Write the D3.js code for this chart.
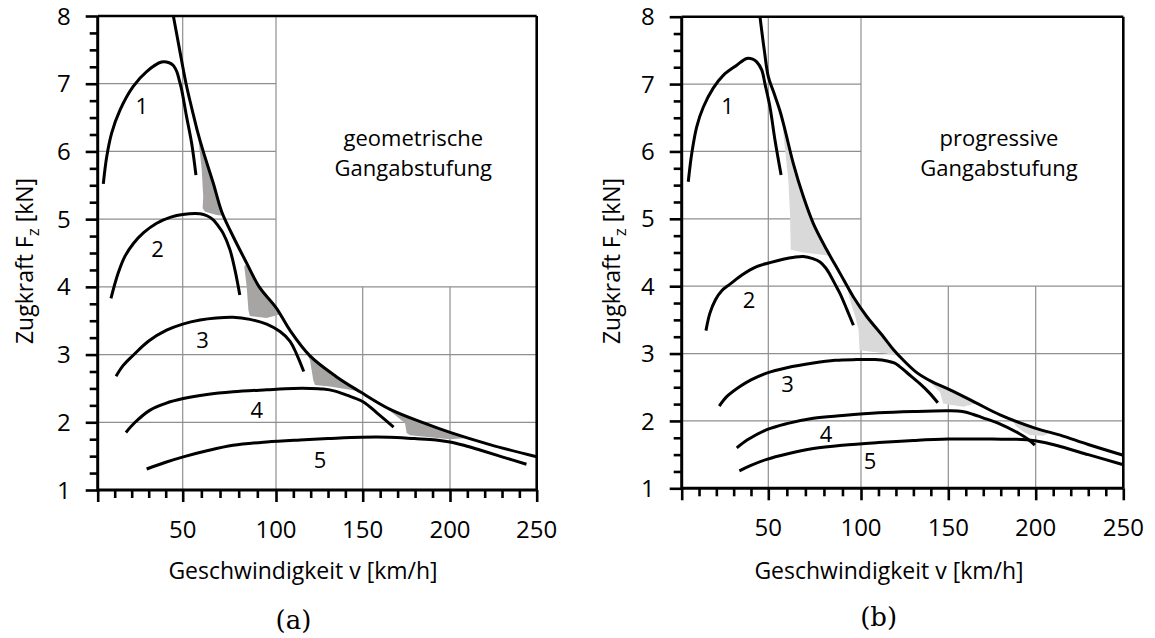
<!DOCTYPE html>
<html><head><meta charset="utf-8">
<script src="https://cdn.jsdelivr.net/npm/d3@7"></script>
<style>body{margin:0;background:#fff}</style>
</head><body>
<svg id="c" width="1155" height="638"></svg>
<script>
// ---------- data (x: km/h, y: kN) ----------
const xTicks = [0, 50, 100, 150, 200, 250];
const xTickLabels = ["", "50", "100", "150", "200", "250"];
const yTicks = [1, 2, 3, 4, 5, 6, 7, 8];
const yTickLabels = ["1", "2", "3", "4", "5", "6", "7", "8"];
const gridYFull = [2, 3, 4];
const gridYShort = [5, 6, 7];
const gridXFull = [50, 100];
const gridXShort = [150, 200];
const gearNames = ["1", "2", "3", "4", "5"];

// (a) geometrische Gangabstufung
const envA = [[44.5,8],[48.2,7.5],[51.8,7.0],[55.2,6.6],[57.7,6.32],[61,6.0],[66.4,5.53],[70.9,5.11],[77.1,4.74],[84.3,4.35],[91,4.0],[100.4,3.68],[108,3.36],[119.6,2.98],[135,2.67],[148.5,2.45],[165.7,2.19],[184.9,1.99],[200,1.85],[223,1.67],[250,1.49]];
const gear1A = [[3.3,5.52],[5.3,5.92],[8.2,6.27],[13.1,6.61],[20.9,6.96],[28.8,7.18],[37.6,7.32],[42,7.31],[44.5,7.27],[46.5,7.18],[48,7.05],[49.4,6.91],[52.1,6.51],[54.8,6.12],[57.1,5.65]];
const gear2A = [[7.8,3.83],[12,4.2],[16,4.45],[21,4.64],[27,4.8],[34.7,4.94],[43,5.03],[50,5.07],[59.3,5.08],[63,5.05],[66.4,4.99],[69,4.9],[71.7,4.79],[75.3,4.55],[78,4.25],[80.6,3.88]];
const gear3A = [[10.8,2.68],[15,2.84],[20.9,2.99],[30,3.2],[40.5,3.36],[50,3.45],[59.3,3.51],[68,3.54],[77,3.55],[86,3.52],[95,3.45],[102.3,3.34],[108,3.2],[112,3.0],[116,2.75]];
const gear4A = [[16.6,1.85],[22,2.0],[30.8,2.18],[40,2.28],[50.3,2.35],[63,2.41],[77,2.45],[95,2.48],[110,2.5],[120,2.5],[127.3,2.49],[134,2.46],[140.8,2.4],[150.4,2.3],[158.1,2.14],[167.7,1.93]];
const gear5A = [[28.8,1.31],[40,1.41],[50.3,1.49],[63,1.58],[77,1.66],[95,1.71],[113.8,1.74],[130,1.76],[149.4,1.78],[165,1.78],[179.5,1.76],[192,1.74],[200,1.71],[208,1.66],[217.3,1.59],[230,1.49],[244.1,1.38]];
const shadeA1 = [[58.4,6.2],[60.2,5.73],[61,5.33],[60.7,5.16],[62,5.11],[68.2,5.06],[72,5.05],[70.9,5.11],[66.4,5.53],[61,6.0]];
const shadeA2 = [[83,4.3],[84.3,4.0],[85.2,3.66],[86,3.57],[95,3.54],[103,3.6],[100.4,3.68],[91,4.0],[84.3,4.35]];
const shadeA3 = [[116.7,3.07],[119.6,2.92],[121.5,2.62],[122.5,2.55],[131.1,2.53],[142.7,2.48],[148.5,2.45],[135,2.67],[125,2.86]];
const shadeA4 = [[163.5,2.21],[174.2,1.99],[175.2,1.84],[177.1,1.81],[188.6,1.78],[200,1.75],[211.5,1.77],[200,1.85],[184.9,1.99],[172,2.12]];
const labelPosA = [[25.9,6.67],[35.2,4.56],[60.6,3.22],[89.7,2.18],[125.4,1.44]];

// (b) progressive Gangabstufung
const envB = [[45.2,8],[47.7,7.5],[50,7.11],[53,6.87],[56.3,6.6],[59,6.32],[63.5,5.82],[68.9,5.33],[74.3,4.93],[81.5,4.54],[88.7,4.19],[95.9,3.84],[103.3,3.55],[112.8,3.25],[118.5,3.06],[124.3,2.9],[131.8,2.72],[140,2.59],[151,2.46],[165,2.28],[179.6,2.09],[200,1.89],[214,1.79],[230,1.65],[250,1.49]];
const gear1B = [[3.8,5.55],[5.8,5.97],[8.7,6.37],[12.5,6.66],[18.2,6.94],[24,7.13],[31.8,7.28],[37.5,7.38],[41,7.37],[43.3,7.33],[46.2,7.21],[48.1,7.0],[50.9,6.66],[53.6,6.17],[56.9,5.65]];
const gear2B = [[14,3.34],[16.3,3.6],[19.5,3.8],[23,3.93],[27.9,4.03],[35,4.17],[43.3,4.29],[50.9,4.35],[58,4.4],[64,4.43],[68.9,4.44],[74,4.41],[77.9,4.36],[81,4.27],[83.5,4.16],[86,4.03],[88.7,3.89],[92.3,3.66],[95.9,3.42]];
const gear3B = [[21.7,2.22],[26,2.36],[33.6,2.51],[40,2.61],[49,2.71],[60,2.79],[74.3,2.86],[86,2.9],[97.5,2.91],[108,2.91],[115,2.89],[119,2.86],[122,2.81],[127,2.7],[133.4,2.56],[139,2.42],[144,2.27]];
const gear4B = [[31.8,1.6],[38,1.72],[49.1,1.87],[60,1.96],[74.3,2.04],[90,2.08],[110,2.12],[130,2.14],[150,2.15],[158,2.14],[164,2.1],[169.5,2.05],[179.1,1.96],[190,1.82],[196,1.72],[199.5,1.64]];
const gear5B = [[33.3,1.26],[40,1.34],[49.1,1.43],[60,1.51],[74.3,1.59],[90,1.64],[110,1.68],[130,1.71],[150,1.73],[175,1.73],[194.8,1.72],[205,1.68],[214,1.62],[230,1.5],[250,1.35]];
const shadeB1 = [[57.8,6.35],[60.8,5.58],[61.7,5.08],[62.1,4.54],[68.9,4.5],[77.9,4.47],[83,4.45],[81.5,4.54],[74.3,4.93],[68.9,5.33],[63.5,5.82],[59,6.32]];
const shadeB2 = [[92.3,4.0],[94.5,3.75],[96.9,3.55],[98.7,3.35],[99.2,3.05],[105,3.03],[114.6,3.0],[120.3,2.97],[112.8,3.25],[103.3,3.55],[95.9,3.84]];
const shadeB3 = [[137,2.64],[145.2,2.43],[147.1,2.26],[151.1,2.24],[158.7,2.21],[165,2.26],[151,2.46],[145,2.53]];
const shadeB4 = [[186,2.02],[188.8,1.92],[192.9,1.84],[196.7,1.79],[204.3,1.78],[209,1.83],[200,1.89],[193,1.96]];
const labelPosB = [[26.4,6.67],[38.9,3.79],[60.4,2.55],[81.2,1.81],[105.2,1.41]];

// ---------- drawing ----------
const svg = d3.select("#c");
const FONT = "'Open Sans', sans-serif";

function drawPanel(cfg) {
  const x = d3.scaleLinear().domain(xTicks).range(cfg.xr);
  const y = d3.scaleLinear().domain([1, 8]).range(cfg.yr);
  const g = svg.append("g");
  const line = d3.line().x(d => x(d[0])).y(d => y(d[1])).curve(d3.curveCatmullRom.alpha(0.5));
  const poly = d3.line().x(d => x(d[0])).y(d => y(d[1]));

  // grid
  const grid = g.append("g").attr("stroke", "#8f8f8f").attr("stroke-width", 1.2);
  grid.selectAll(".hf").data(gridYFull).join("line").attr("class","hf")
    .attr("x1", x(0)).attr("x2", x(250)).attr("y1", d => y(d)).attr("y2", d => y(d));
  grid.selectAll(".hs").data(gridYShort).join("line").attr("class","hs")
    .attr("x1", x(0)).attr("x2", x(100)).attr("y1", d => y(d)).attr("y2", d => y(d));
  grid.selectAll(".vf").data(gridXFull).join("line").attr("class","vf")
    .attr("x1", d => x(d)).attr("x2", d => x(d)).attr("y1", y(1)).attr("y2", y(8));
  grid.selectAll(".vs").data(gridXShort).join("line").attr("class","vs")
    .attr("x1", d => x(d)).attr("x2", d => x(d)).attr("y1", y(1)).attr("y2", y(4));

  // shading
  g.selectAll(".sh").data(cfg.shades).join("path").attr("class","sh")
    .attr("d", d => poly(d) + "Z").attr("fill", cfg.fill).attr("stroke", "none");

  // curves
  g.selectAll(".cv").data([cfg.env].concat(cfg.gears)).join("path").attr("class","cv")
    .attr("d", line).attr("fill", "none").attr("stroke", "#000").attr("stroke-width", 3);

  // axes ticks
  const xMinor = d3.range(10, 250, 10).filter(v => v % 50 !== 0);
  const yMinor = d3.range(1.25, 8, 0.25).filter(v => v % 1 !== 0);
  const ax = g.append("g").attr("transform", `translate(0,${y(1)})`);
  ax.call(d3.axisBottom(x).tickValues(xMinor).tickSize(8).tickSizeOuter(0).tickFormat(""));
  const ax2 = g.append("g").attr("transform", `translate(0,${y(1)})`);
  ax2.call(d3.axisBottom(x).tickValues(xTicks).tickSize(12).tickSizeOuter(0).tickFormat(""));
  const ay = g.append("g").attr("transform", `translate(${x(0)},0)`);
  ay.call(d3.axisLeft(y).tickValues(yMinor).tickSize(8).tickSizeOuter(0).tickFormat(""));
  const ay2 = g.append("g").attr("transform", `translate(${x(0)},0)`);
  ay2.call(d3.axisLeft(y).tickValues(yTicks).tickSize(12).tickSizeOuter(0).tickFormat(""));
  [ax, ax2, ay, ay2].forEach(a => {
    a.select(".domain").remove();
    a.selectAll(".tick line").attr("stroke", "#000").attr("stroke-width", 2.6);
  });

  // axis lines + frame
  const fr = g.append("g").attr("stroke", "#000").attr("stroke-width", 3).attr("fill", "none");
  fr.append("line").attr("x1", x(0)).attr("x2", x(250)).attr("y1", y(1)).attr("y2", y(1));
  fr.append("line").attr("x1", x(0)).attr("x2", x(0)).attr("y1", y(1) + 1.5).attr("y2", y(8));
  fr.append("line").attr("x1", x(0)).attr("x2", x(250)).attr("y1", y(8)).attr("y2", y(8)).attr("stroke-width", 2.6);
  fr.append("line").attr("x1", x(250)).attr("x2", x(250)).attr("y1", y(8)).attr("y2", y(1)).attr("stroke-width", 2.6);

  // tick labels
  g.selectAll(".xl").data(xTicks).join("text").attr("class","xl")
    .attr("x", d => x(d)).attr("y", y(1) + 48)
    .attr("text-anchor", "middle").attr("font-family", FONT).attr("font-size", 24)
    .text((d, i) => xTickLabels[i]);
  g.selectAll(".yl").data(yTicks).join("text").attr("class","yl")
    .attr("x", x(0) - 27).attr("y", d => y(d) + 8.6)
    .attr("text-anchor", "end").attr("font-family", FONT).attr("font-size", 24)
    .text((d, i) => yTickLabels[i]);

  // axis titles
  g.append("text").attr("x", cfg.xTitleX).attr("y", 579)
    .attr("text-anchor", "middle").attr("font-family", FONT).attr("font-size", 23)
    .text("Geschwindigkeit v [km/h]");
  const yt = g.append("text")
    .attr("transform", `translate(${cfg.yTitleX},261) rotate(-90)`)
    .attr("text-anchor", "middle").attr("font-family", FONT).attr("font-size", 23);
  yt.append("tspan").text("Zugkraft F");
  yt.append("tspan").attr("dy", 6).attr("font-size", 17).text("z");
  yt.append("tspan").attr("dy", -6).text(" [kN]");

  // gear numbers
  g.selectAll(".gn").data(cfg.labelPos).join("text").attr("class","gn")
    .attr("x", d => x(d[0])).attr("y", d => y(d[1]) + 7.9)
    .attr("text-anchor", "middle").attr("font-family", FONT).attr("font-size", 22)
    .text((d, i) => gearNames[i]);

  // annotation
  g.append("text").attr("x", x(179)).attr("y", y(6.08))
    .attr("text-anchor", "middle").attr("font-family", FONT).attr("font-size", 22).text(cfg.note1);
  g.append("text").attr("x", x(179)).attr("y", y(5.63))
    .attr("text-anchor", "middle").attr("font-family", FONT).attr("font-size", 22).text("Gangabstufung");

  // panel tag
  g.append("text").attr("x", cfg.tagX).attr("y", cfg.tagY)
    .attr("text-anchor", "middle").attr("font-family", "'DejaVu Serif', serif").attr("font-size", 26)
    .text(cfg.tag);
}

drawPanel({
  xr: [97.7, 182.7, 276, 362.7, 450, 536.7], yr: [490, 16],
  env: envA, gears: [gear1A, gear2A, gear3A, gear4A, gear5A],
  shades: [shadeA1, shadeA2, shadeA3, shadeA4], fill: "#a7a4a4",
  labelPos: labelPosA, note1: "geometrische",
  xTitleX: 303, yTitleX: 33, tag: "(a)", tagX: 293.5, tagY: 629
});
drawPanel({
  xr: [681.7, 768.3, 861, 948.3, 1035.7, 1123.3], yr: [488.3, 16.7],
  env: envB, gears: [gear1B, gear2B, gear3B, gear4B, gear5B],
  shades: [shadeB1, shadeB2, shadeB3, shadeB4], fill: "#d9d9d9",
  labelPos: labelPosB, note1: "progressive",
  xTitleX: 889, yTitleX: 620, tag: "(b)", tagX: 878.7, tagY: 626
});
</script>
</body></html>
